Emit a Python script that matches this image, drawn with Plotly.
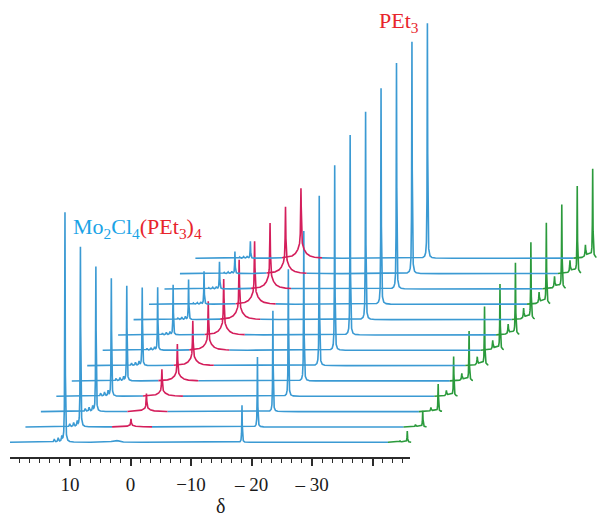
import numpy as np
import plotly.graph_objects as go

# ---------------- data ----------------
n_spectra = 13
# peak heights (arbitrary intensity units) per spectrum, bottom -> top
mo_heights = [230, 180, 145, 118, 95, 78, 63, 50, 40, 33, 27, 22, 17]
pet3_heights = [37, 70, 101, 127, 150, 170, 185, 200, 208, 216, 226, 232, 235]
complex_heights = [2, 8, 18, 27, 37, 45, 49, 56, 60, 63, 66, 67, 70]
green_heights = [11, 16, 27, 39, 49, 58, 65, 71, 76, 80, 83, 86, 88]
mult_heights = [5, 5, 5, 5, 4, 4, 3, 3, 3, 2, 2, 2, 2]

# chemical shifts (ppm)
mo_ppm = 10.83
mult_ppm = [11.35, 11.95, 12.6]
mult_rel = [1.0, 0.8, 0.6]
pet3_ppm = -18.43
complex_ppm = 2.47
complex_region = (5.6, -1.0)
green_ppm = -45.75
green_sat_ppm = -44.55
green_region_start = -42.56
spec_ppm = (19.92, -46.4)

tick_vals = [10, 0, -10, -20, -30, -40]
tick_text = ["10", "0", "\u221210", "\u2013 20", "\u2013 30", ""]

# ---------------- layout constants ----------------
W, H = 597, 518
PX_PER_PPM = 6.05
ZERO_PX = 130.5
BASE_PX = 442.3
STEP_X_PX = 15.45
STEP_Y = 15.33
shift_ppm = STEP_X_PX / PX_PER_PPM

BLUE = "#3b9ad3"
RED = "#d41f5c"
GREEN = "#2b9a3c"


def lor(x, x0, h, g):
    return h / (1.0 + ((x - x0) / g) ** 2)


fig = go.Figure()
x_local = np.round(np.arange(spec_ppm[0], spec_ppm[1], -0.01), 3)

for i in range(n_spectra):
    y = lor(x_local, mo_ppm, mo_heights[i], 0.045)
    for p, r in zip(mult_ppm, mult_rel):
        y = y + lor(x_local, p, mult_heights[i] * r, 0.08)
    y = y + lor(x_local, pet3_ppm, pet3_heights[i], 0.045)
    ch = complex_heights[i]
    if i > 0:
        y = y + lor(x_local, complex_ppm, 0.82 * ch, 0.06) + lor(x_local, complex_ppm, 0.18 * ch, 0.7)
    else:
        y = y + lor(x_local, complex_ppm, ch, 0.6)
    g = green_heights[i]
    y = y + lor(x_local, green_ppm, g, 0.045)
    y = y + lor(x_local, green_sat_ppm, 0.13 * g, 0.06)
    y = y + lor(x_local, -45.1, 0.05 * g, 0.5)

    xp = x_local - i * shift_ppm
    yp = y + i * STEP_Y

    none = np.zeros_like(x_local, bool)
    in_red = ((x_local <= complex_region[0]) & (x_local >= complex_region[1])) if i > 0 else none
    in_green = x_local <= green_region_start
    red_int = ((x_local < complex_region[0] - 0.005) & (x_local > complex_region[1] + 0.005)) if i > 0 else none
    green_int = x_local < green_region_start - 0.005

    yb = np.where(red_int | green_int, np.nan, yp)
    fig.add_trace(go.Scatter(x=xp, y=yb, mode="lines", line=dict(color=BLUE, width=1.6),
                             hoverinfo="skip", showlegend=False, connectgaps=False))
    if i > 0:
        fig.add_trace(go.Scatter(x=xp[in_red], y=yp[in_red], mode="lines",
                                 line=dict(color=RED, width=1.6), hoverinfo="skip", showlegend=False))
    fig.add_trace(go.Scatter(x=xp[in_green], y=yp[in_green], mode="lines",
                             line=dict(color=GREEN, width=1.6), hoverinfo="skip", showlegend=False))

# dummy trace so that the visible ppm axis is drawn
fig.add_trace(go.Scatter(x=[None], y=[None], xaxis="x2", yaxis="y", showlegend=False, hoverinfo="skip"))

x_rng = [ZERO_PX / PX_PER_PPM, (ZERO_PX - W) / PX_PER_PPM]
y_rng = [-(H - BASE_PX), BASE_PX]
ax_l, ax_r = 10, 410
ax_rng = [(ZERO_PX - ax_l) / PX_PER_PPM, (ZERO_PX - ax_r) / PX_PER_PPM]
AXIS_Y = 458

serif = "Liberation Serif, Times New Roman, serif"
fig.update_layout(
    width=W, height=H, margin=dict(l=0, r=0, t=0, b=0),
    paper_bgcolor="white", plot_bgcolor="rgba(0,0,0,0)",
    xaxis=dict(range=x_rng, domain=[0, 1], visible=False, showgrid=False, zeroline=False),
    yaxis=dict(range=y_rng, domain=[0, 1], visible=False, showgrid=False, zeroline=False),
    xaxis2=dict(range=ax_rng, domain=[ax_l / W, ax_r / W], anchor="free", position=1 - AXIS_Y / H,
                showline=True, linecolor="#2b2b2b", linewidth=2, showgrid=False, zeroline=False,
                tickmode="array", tickvals=tick_vals, ticktext=tick_text,
                ticks="outside", ticklen=7, tickwidth=1.6, tickcolor="#2b2b2b",
                ticklabelstandoff=2,
                tickfont=dict(family=serif, size=19, color="#1a1a1a"),
                minor=dict(tickmode="linear", tick0=0, dtick=10 / 6, ticks="outside",
                           ticklen=4, tickwidth=1.3, tickcolor="#2b2b2b", showgrid=False)),
    showlegend=False,
)

fig.add_annotation(xref="paper", yref="paper", x=220 / W, y=1 - 506 / H, text="\u03b4",
                   xanchor="center", yanchor="middle",
                   showarrow=False, font=dict(family=serif, size=20, color="#1a1a1a"))
fig.add_annotation(xref="paper", yref="paper", x=71 / W, y=1 - 228 / H, xanchor="left", yanchor="middle",
                   text="<span style='color:#1aa3e6'>Mo<sub>2</sub>Cl<sub>4</sub></span>"
                        "<span style='color:#e8242c'>(PEt<sub>3</sub>)<sub>4</sub></span>",
                   showarrow=False, font=dict(family=serif, size=22))
fig.add_annotation(xref="paper", yref="paper", x=377 / W, y=1 - 22 / H, xanchor="left", yanchor="middle",
                   text="PEt<sub>3</sub>", showarrow=False,
                   font=dict(family=serif, size=22, color="#e8242c"))

fig.write_html("out.html")
